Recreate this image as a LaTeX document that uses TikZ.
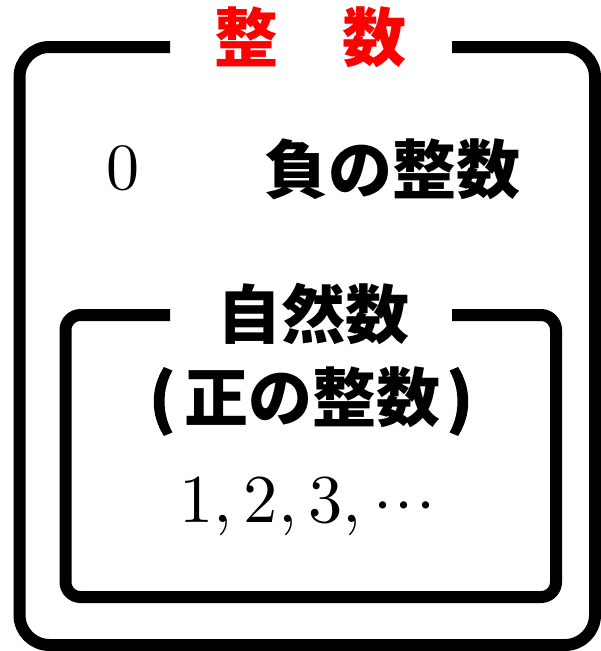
\documentclass[tikz,border=0pt]{standalone}
\usepackage{fontspec}
\newfontfamily\jp{Noto Sans CJK JP}
\newfontfamily\jpparen{Noto Sans CJK JP}[FakeBold=2.5]
\begin{document}
\begin{tikzpicture}[x=1pt,y=-1pt,
  frame/.style={line width=12pt,draw=black},
  jptext/.style={inner sep=0pt,font=\jp\bfseries\fontsize{64}{70}\selectfont},
  numtext/.style={inner sep=0pt}]
\useasboundingbox (0,0) rectangle (601,651);
% outer box with gap for title
\coordinate (oL) at (170,47);
\coordinate (oR) at (452,47);
\draw[frame,rounded corners=30pt] (oL) -- (19.5,47) -- (19.5,645) -- (595,645) -- (595,47) -- (oR);
% inner box with gap for title
\coordinate (iL) at (170,315);
\coordinate (iR) at (452,315);
\draw[frame,rounded corners=15pt] (iL) -- (65.5,315) -- (65.5,597) -- (556,597) -- (556,315) -- (iR);
% texts
\node[jptext,text=red] (title) at (310.5,37) {整　数};
\node[numtext,anchor=base] (zero) at (122.5,189.5) {\scalebox{6.6}{0}};
\node[jptext] (neg) at (392,169) {負の整数};
\node[jptext] (nat) at (313,314) {自然数};
\node[jptext] (pos) at (311,401)
  {{\jpparen\bfseries(}\hspace{9pt}正の整数\hspace{7pt}{\jpparen\bfseries)}};
\node[numtext,anchor=base west] (nums) at (179,522.5)
  {\scalebox{6.85}{$1,2,3,{\cdot}\mkern0.65mu{\cdot}\mkern0.65mu{\cdot}$}};
\end{tikzpicture}
\end{document}
